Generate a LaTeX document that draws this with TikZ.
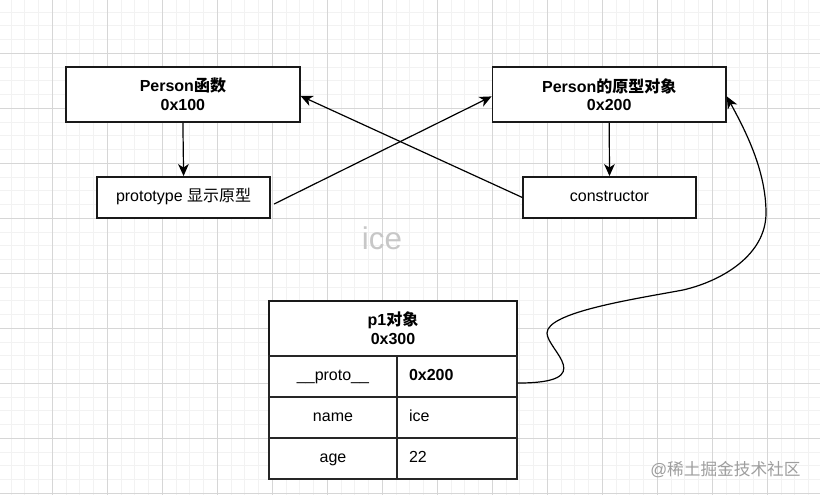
\documentclass[tikz,border=0pt]{standalone}
\usepackage{fontspec}
\setmainfont{Liberation Sans}
\newfontfamily\cjk{Noto Sans CJK SC}
\usetikzlibrary{arrows.meta}
\tikzset{
  minorgrid/.style={draw=black!5, line width=0.6pt},
  majorgrid/.style={draw=black!16, line width=0.6pt},
  bigbox/.style={draw=black!90, line width=1.1pt, fill=white, inner sep=0pt,
    minimum width=233.75*0.75pt, minimum height=55*0.75pt, align=center,
    font=\fontsize{12pt}{14pt}\selectfont\bfseries},
  smallbox/.style={draw=black!90, line width=1.1pt, fill=white, inner sep=0pt,
    minimum width=172.8*0.75pt, minimum height=41.4*0.75pt,
    text height=9pt, text depth=2.6pt,
    font=\fontsize{12pt}{14pt}\selectfont},
  cellc/.style={draw=black!85, line width=1.1pt, fill=white, inner sep=0pt,
    minimum width=128*0.75pt, minimum height=41*0.75pt,
    text height=9pt, text depth=2.6pt,
    font=\fontsize{12pt}{14pt}\selectfont},
  celll/.style={draw=black!85, line width=1.1pt, fill=white, inner ysep=0pt,
    inner xsep=12*0.75pt, text width=96*0.75pt, align=left,
    text height=9pt, text depth=2.6pt,
    minimum height=41*0.75pt, font=\fontsize{12pt}{14pt}\selectfont},
  conn/.style={draw=black, line width=0.9pt,
    -{Stealth[length=9pt, width=8pt, inset=2.6pt]}},
}
\begin{document}
\begin{tikzpicture}[x=0.75pt, y=-0.75pt]
\useasboundingbox (0,0) rectangle (820,495);
\fill[white] (0,0) rectangle (820,495);
% grid
\foreach \i in {0,...,58} \draw[minorgrid] ({11.05+13.75*\i},0) -- ({11.05+13.75*\i},495);
\foreach \j in {0,...,35} \draw[minorgrid] (0,{12.05+13.75*\j}) -- (820,{12.05+13.75*\j});
\foreach \i in {0,...,13} \draw[majorgrid] ({52.3+55*\i},0) -- ({52.3+55*\i},495);
\foreach \j in {0,...,8} \draw[majorgrid] (0,{53.3+55*\j}) -- (820,{53.3+55*\j});

% watermark text
\node[text=black!22, font=\fontsize{23.5pt}{25pt}\selectfont] (wm) at (382,238) {ice};
\node[text=black!38, anchor=west, inner sep=0pt, font=\fontsize{12.5pt}{14pt}\selectfont] (jj) at (650,470) {@{\cjk 稀土掘金技术社区}};

% boxes
\node[bigbox] (pfn) at (182.9,94.55) {Person{\cjk 函数}\\0x100};
\node[bigbox] (pproto) at (609.2,94.55) {Person{\cjk 的原型对象}\\0x200};
\node[smallbox] (ptype) at (183.6,197.5) {prototype {\cjk 显示原型}};
\node[smallbox] (ctor) at (609.5,197.5) {constructor};

% table
\node[bigbox, minimum width=248*0.75pt] (p1) at (393,328.5) {p1{\cjk 对象}\\0x300};
\node[cellc] (k1) at (333,376.5) {\_\_proto\_\_};
\node[celll, font=\fontsize{12pt}{14pt}\selectfont\bfseries] (v1) at (457,376.5) {0x200};
\node[cellc] (k2) at (333,417.5) {name};
\node[celll] (v2) at (457,417.5) {ice};
\node[cellc] (k3) at (333,458.5) {age};
\node[celll] (v3) at (457,458.5) {22};

% connectors
\draw[conn] (pfn.south) -- (ptype.north);
\draw[conn] (pproto.south) -- (ctor.north);
\draw[conn] ([xshift=2.5pt, yshift=-4.9pt]ptype.east) -- ([yshift=-1.4pt]pproto.west);
\draw[conn] (ctor.west) -- ([yshift=-1pt]pfn.east);
\draw[conn] ([yshift=-4.9pt]v1.east)
  .. controls (600,383) and (547,350) .. (547,333)
  .. controls (547,312) and (635,299) .. (683,290)
  .. controls (722,281) and (766,255) .. (766,213)
  .. controls (766,170) and (745,130) .. ([yshift=-1.4pt]pproto.east);
\end{tikzpicture}
\end{document}
